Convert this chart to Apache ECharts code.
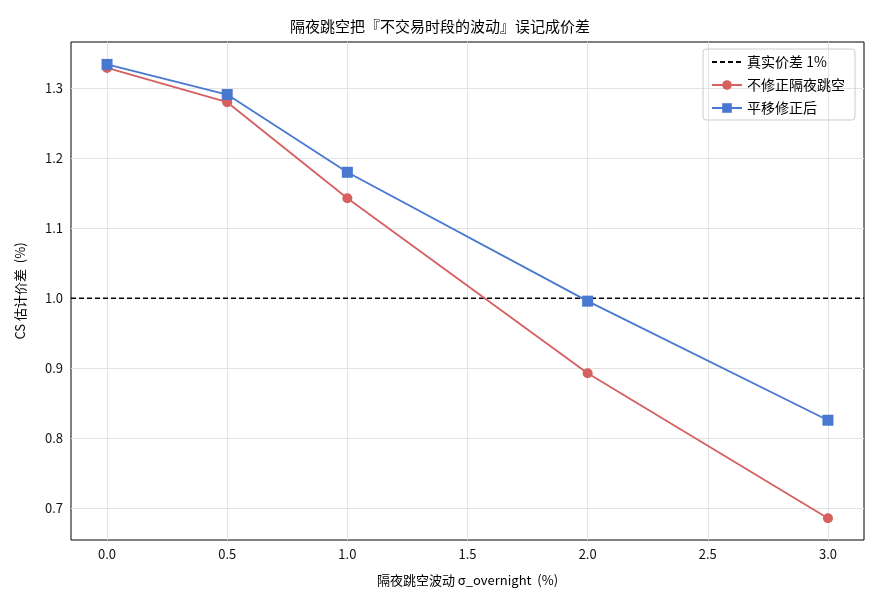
<!DOCTYPE html>
<html>
<head>
<meta charset="utf-8">
<script src="https://cdn.jsdelivr.net/npm/echarts@6/dist/echarts.min.js"></script>
<style>
  html, body { margin: 0; padding: 0; background: #fff; }
  #main { width: 880px; height: 605px; }
</style>
</head>
<body>
<div id="main"></div>
<script>
// 数据
var sigma = [0, 0.5, 1.0, 2.0, 3.0];
var rawSpread = [1.329, 1.280, 1.143, 0.893, 0.686];
var fixedSpread = [1.334, 1.291, 1.180, 0.996, 0.826];
var trueSpread = 1.0;
var xTicks = [0, 0.5, 1.0, 1.5, 2.0, 2.5, 3.0];
var yTicks = [0.7, 0.8, 0.9, 1.0, 1.1, 1.2, 1.3];
var xRange = [-0.15, 3.15];
var yRange = [0.655, 1.366];

var font = '"Noto Sans CJK SC", "Noto Sans", sans-serif';

function pairs(xs, ys) {
  return xs.map(function (x, i) { return [x, ys[i]]; });
}

var chart = echarts.init(document.getElementById('main'));

// 网格线和刻度标签用 markLine 画，避免轴刻度从 min 开始数
var gridLines = [];
yTicks.forEach(function (v) {
  gridLines.push({ yAxis: v, label: { position: 'start', distance: 8, formatter: v.toFixed(1) } });
});
xTicks.forEach(function (v) {
  gridLines.push({ xAxis: v, label: { position: 'start', distance: 8, formatter: v.toFixed(1) } });
});

var option = {
  animation: false,
  textStyle: { fontFamily: font },
  title: {
    text: '隔夜跳空把『不交易时段的波动』误记成价差',
    left: 'center',
    top: 14,
    textStyle: { fontSize: 15, fontWeight: 'normal', color: '#000', fontFamily: font }
  },
  legend: {
    orient: 'vertical',
    right: 25,
    top: 49,
    padding: [6, 10, 5, 8],
    itemGap: 9,
    itemWidth: 30,
    itemHeight: 12,
    borderColor: '#cccccc',
    borderWidth: 1,
    borderRadius: 3,
    textStyle: { fontSize: 14, color: '#000', fontFamily: font },
    data: [
      { name: '真实价差 1%', itemStyle: { opacity: 0 } },
      '不修正隔夜跳空',
      '平移修正后'
    ]
  },
  grid: {
    left: 71, right: 16, top: 42, bottom: 65,
    show: true, borderColor: '#000', borderWidth: 1
  },
  xAxis: {
    type: 'value',
    min: xRange[0],
    max: xRange[1],
    name: '隔夜跳空波动 σ_overnight  (%)',
    nameLocation: 'middle',
    nameGap: 34,
    nameTextStyle: { fontSize: 13, color: '#000', fontFamily: font },
    axisLine: { show: false },
    axisTick: { show: false },
    axisLabel: { show: false },
    splitLine: { show: false }
  },
  yAxis: {
    type: 'value',
    min: yRange[0],
    max: yRange[1],
    name: 'CS 估计价差  (%)',
    nameLocation: 'middle',
    nameGap: 44,
    nameTextStyle: { fontSize: 13, color: '#000', fontFamily: font },
    axisLine: { show: false },
    axisTick: { show: false },
    axisLabel: { show: false },
    splitLine: { show: false }
  },
  series: [
    {
      name: 'grid',
      type: 'line',
      data: [],
      z: 1,
      silent: true,
      markLine: {
        silent: true,
        z: 1,
        symbol: ['none', 'none'],
        lineStyle: { color: '#e3e3e3', width: 1, type: 'solid' },
        label: { color: '#111', fontSize: 13, fontFamily: font },
        emphasis: { disabled: true },
        data: gridLines
      }
    },
    {
      name: '真实价差 1%',
      type: 'line',
      data: [[xRange[0], trueSpread], [xRange[1], trueSpread]],
      symbol: 'none',
      z: 3,
      itemStyle: { color: '#000' },
      lineStyle: { color: '#000', width: 1.5, type: [5, 3] }
    },
    {
      name: '不修正隔夜跳空',
      type: 'line',
      data: pairs(sigma, rawSpread),
      symbol: 'circle',
      symbolSize: 10,
      z: 4,
      itemStyle: { color: '#d65f5f' },
      lineStyle: { color: '#d65f5f', width: 1.8 }
    },
    {
      name: '平移修正后',
      type: 'line',
      data: pairs(sigma, fixedSpread),
      symbol: 'rect',
      symbolSize: 11,
      z: 5,
      itemStyle: { color: '#4878d0' },
      lineStyle: { color: '#4878d0', width: 1.8 }
    }
  ]
};

chart.setOption(option);
</script>
</body>
</html>
